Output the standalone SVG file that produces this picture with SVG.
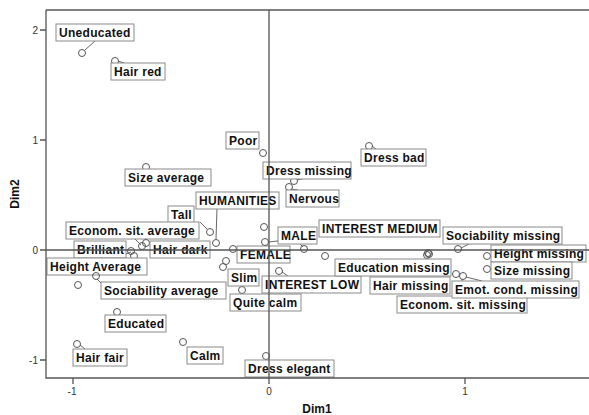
<svg xmlns="http://www.w3.org/2000/svg" width="589" height="415" viewBox="0 0 589 415">
<style>
.bg{fill:#fff}
.ax{stroke:#555;stroke-width:1.3;fill:none}
.ref{stroke:#555;stroke-width:1.3;fill:none}
.tk{font-family:"Liberation Sans",Arial,sans-serif;font-size:10px;fill:#333}
.tt{font-family:"Liberation Sans",Arial,sans-serif;font-size:12px;font-weight:bold;fill:#111}
.bx{fill:#fff;stroke:#8a8a8a;stroke-width:1}
.lb{font-family:"Liberation Sans",Arial,sans-serif;font-size:12px;font-weight:bold;fill:#111;letter-spacing:0.3px}
.pt{fill:none;stroke:#555;stroke-width:1}
.ld{stroke:#666;stroke-width:1;fill:none}
</style>
<rect class="bg" x="0" y="0" width="589" height="415"/>
<g id="connectors">
<line class="ld" x1="85" y1="50" x2="95" y2="41"/>
<line class="ld" x1="118" y1="61" x2="124" y2="63"/>
<line class="ld" x1="372" y1="146" x2="376" y2="149"/>
<line class="ld" x1="297" y1="180" x2="306" y2="178"/>
<line class="ld" x1="291" y1="189" x2="298" y2="190"/>
<line class="ld" x1="217" y1="208" x2="216" y2="239"/>
<line class="ld" x1="200" y1="222" x2="207" y2="229"/>
<line class="ld" x1="135" y1="239" x2="141" y2="245"/>
<line class="ld" x1="126" y1="254" x2="131" y2="252"/>
<line class="ld" x1="97" y1="279" x2="101" y2="283"/>
<line class="ld" x1="80" y1="345" x2="85" y2="349"/>
<line class="ld" x1="268" y1="242" x2="278" y2="241"/>
<line class="ld" x1="300" y1="244" x2="303" y2="247"/>
<line class="ld" x1="282" y1="272" x2="288" y2="276"/>
<line class="ld" x1="461" y1="248" x2="471" y2="243"/>
<line class="ld" x1="462" y1="279" x2="462" y2="296"/>
<line class="ld" x1="466" y1="277" x2="482" y2="281"/>
</g>
<g id="n-uneducated"><circle class="pt" cx="82" cy="53" r="3.5"/><rect class="bx" x="56" y="24" width="78" height="17"/><text class="lb" x="59" y="37">Uneducated</text></g>
<g id="n-hair-red"><circle class="pt" cx="115" cy="61" r="3.5"/><rect class="bx" x="111" y="63" width="54" height="17"/><text class="lb" x="114" y="76">Hair red</text></g>
<g id="n-poor"><circle class="pt" cx="263" cy="153" r="3.5"/><rect class="bx" x="226" y="132" width="33" height="17"/><text class="lb" x="229" y="145">Poor</text></g>
<g id="n-dress-bad"><circle class="pt" cx="369" cy="146" r="3.5"/><rect class="bx" x="361" y="149" width="65" height="17"/><text class="lb" x="364" y="162">Dress bad</text></g>
<g id="n-dress-missing"><circle class="pt" cx="294" cy="181" r="3.5"/><rect class="bx" x="263" y="162" width="88" height="17"/><text class="lb" x="266" y="175">Dress missing</text></g>
<g id="n-nervous"><circle class="pt" cx="289" cy="187" r="3.5"/><rect class="bx" x="286" y="190" width="53" height="17"/><text class="lb" x="289" y="203">Nervous</text></g>
<g id="n-size-average"><circle class="pt" cx="146" cy="167" r="3.5"/><rect class="bx" x="125" y="169" width="86" height="17"/><text class="lb" x="128" y="182">Size average</text></g>
<g id="n-humanities"><circle class="pt" cx="216" cy="243" r="3.5"/><rect class="bx" x="196" y="192" width="83" height="17"/><text class="lb" x="199" y="205">HUMANITIES</text></g>
<g id="n-tall"><circle class="pt" cx="210" cy="232" r="3.5"/><rect class="bx" x="168" y="206" width="26" height="17"/><text class="lb" x="171" y="219">Tall</text></g>
<g id="n-econ-avg"><circle class="pt" cx="142" cy="246" r="3.5"/><rect class="bx" x="66" y="222" width="133" height="17"/><text class="lb" x="69" y="235">Econom. sit. average</text></g>
<g id="n-hair-dark"><circle class="pt" cx="146" cy="243" r="3.5"/><rect class="bx" x="150" y="241" width="60" height="17"/><text class="lb" x="153" y="254">Hair dark</text></g>
<g id="n-brilliant"><circle class="pt" cx="131" cy="251" r="3.5"/><circle class="pt" cx="134" cy="256" r="3.5"/><rect class="bx" x="74" y="241" width="52" height="17"/><text class="lb" x="77" y="254">Brilliant</text></g>
<g id="n-height-average"><circle class="pt" cx="78" cy="285" r="3.5"/><rect class="bx" x="47" y="258" width="100" height="17"/><text class="lb" x="50" y="271">Height Average</text></g>
<g id="n-sociability-average"><circle class="pt" cx="96" cy="276" r="3.5"/><rect class="bx" x="101" y="282" width="125" height="17"/><text class="lb" x="104" y="295">Sociability average</text></g>
<g id="n-educated"><circle class="pt" cx="117" cy="312" r="3.5"/><rect class="bx" x="105" y="315" width="61" height="17"/><text class="lb" x="108" y="328">Educated</text></g>
<g id="n-hair-fair"><circle class="pt" cx="77" cy="344" r="3.5"/><rect class="bx" x="73" y="349" width="54" height="17"/><text class="lb" x="76" y="362">Hair fair</text></g>
<g id="n-calm"><circle class="pt" cx="183" cy="342" r="3.5"/><rect class="bx" x="187" y="347" width="36" height="17"/><text class="lb" x="190" y="360">Calm</text></g>
<g id="n-dress-elegant"><circle class="pt" cx="266" cy="356" r="3.5"/><rect class="bx" x="245" y="360" width="89" height="17"/><text class="lb" x="248" y="373">Dress elegant</text></g>
<g id="n-quite-calm"><circle class="pt" cx="242" cy="290" r="3.5"/><rect class="bx" x="230" y="294" width="71" height="17"/><text class="lb" x="233" y="307">Quite calm</text></g>
<g id="n-slim"><circle class="pt" cx="226" cy="261" r="3.5"/><circle class="pt" cx="223" cy="267" r="3.5"/><rect class="bx" x="228" y="269" width="31" height="17"/><text class="lb" x="231" y="282">Slim</text></g>
<g id="n-female"><circle class="pt" cx="233" cy="249" r="3.5"/><rect class="bx" x="237" y="246" width="53" height="17"/><text class="lb" x="240" y="259">FEMALE</text></g>
<g id="n-male"><circle class="pt" cx="265" cy="242" r="3.5"/><circle class="pt" cx="264" cy="227" r="3.5"/><circle class="pt" cx="304" cy="249" r="3.5"/><rect class="bx" x="278" y="227" width="39" height="17"/><text class="lb" x="281" y="240">MALE</text></g>
<g id="n-interest-medium"><circle class="pt" cx="325" cy="256" r="3.5"/><rect class="bx" x="319" y="220" width="121" height="17"/><text class="lb" x="322" y="233">INTEREST MEDIUM</text></g>
<g id="n-interest-low"><circle class="pt" cx="279" cy="271" r="3.5"/><rect class="bx" x="262" y="276" width="99" height="17"/><text class="lb" x="265" y="289">INTEREST LOW</text></g>
<g id="n-education-missing"><circle class="pt" cx="428" cy="253" r="3.5"/><circle class="pt" cx="429" cy="254" r="3.5"/><circle class="pt" cx="427" cy="255" r="3.5"/><rect class="bx" x="335" y="259" width="116" height="17"/><text class="lb" x="338" y="272">Education missing</text></g>
<g id="n-hair-missing"><rect class="bx" x="370" y="277" width="80" height="17"/><text class="lb" x="373" y="290">Hair missing</text></g>
<g id="n-econ-missing"><circle class="pt" cx="463" cy="276" r="3.5"/><rect class="bx" x="397" y="296" width="130" height="17"/><text class="lb" x="400" y="309">Econom. sit. missing</text></g>
<g id="n-emot-missing"><circle class="pt" cx="456" cy="274" r="3.5"/><rect class="bx" x="452" y="281" width="127" height="17"/><text class="lb" x="455" y="294">Emot. cond. missing</text></g>
<g id="n-sociability-missing"><circle class="pt" cx="458" cy="249" r="3.5"/><rect class="bx" x="443" y="227" width="119" height="17"/><text class="lb" x="446" y="240">Sociability missing</text></g>
<g id="n-height-missing"><circle class="pt" cx="487" cy="256" r="3.5"/><rect class="bx" x="491" y="245" width="95" height="17"/><text class="lb" x="494" y="258">Height missing</text></g>
<g id="n-size-missing"><circle class="pt" cx="487" cy="269" r="3.5"/><rect class="bx" x="491" y="262" width="81" height="17"/><text class="lb" x="494" y="275">Size missing</text></g>
<g id="axes">
<path class="ax" d="M46,10 H589 M46,10 V378 H589"/>
<path class="ref" d="M40,250 H589 M269,10 V384"/>
<path class="ax" d="M40,30 H46 M40,140 H46 M40,360 H46 M73,378 V384 M465,378 V384"/>
<text class="tk" x="38" y="34" text-anchor="end">2</text>
<text class="tk" x="38" y="144" text-anchor="end">1</text>
<text class="tk" x="38" y="254" text-anchor="end">0</text>
<text class="tk" x="38" y="364" text-anchor="end">-1</text>
<text class="tk" x="72" y="395" text-anchor="middle">-1</text>
<text class="tk" x="269" y="395" text-anchor="middle">0</text>
<text class="tk" x="465" y="395" text-anchor="middle">1</text>
<text class="tt" x="317" y="413" text-anchor="middle">Dim1</text>
<text class="tt" transform="translate(19,194) rotate(-90)" text-anchor="middle">Dim2</text>
</g>
</svg>
